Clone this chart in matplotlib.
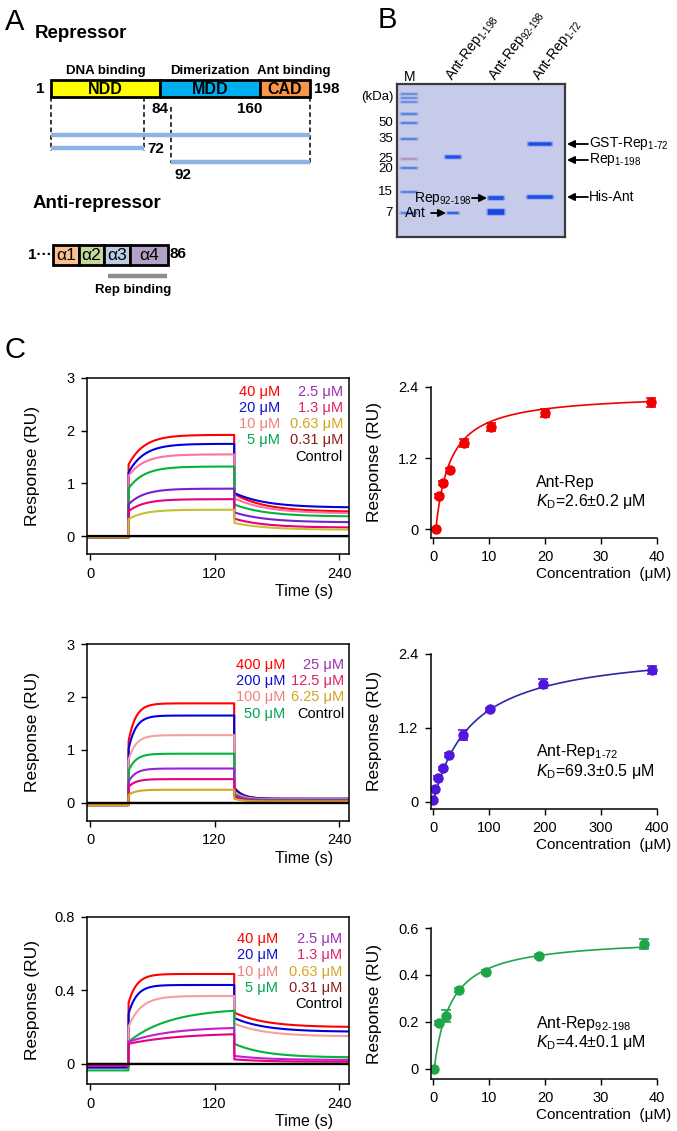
import numpy as np
import matplotlib
matplotlib.use("Agg")
import matplotlib.pyplot as plt
from matplotlib.patches import Rectangle, FancyBboxPatch

plt.rcParams['font.family'] = ['Liberation Sans', 'DejaVu Sans']
plt.rcParams['mathtext.fontset'] = 'custom'
plt.rcParams['mathtext.rm'] = 'Liberation Sans'
plt.rcParams['mathtext.it'] = 'Liberation Sans:italic'
plt.rcParams['mathtext.bf'] = 'Liberation Sans:bold'


def sub(base, s):
    # base text with a subscript, hyphen kept as a plain hyphen
    return base + '$_{\\mathregular{' + s.replace('-', '‐') + '}}$'


# ---------------- data ----------------
# A: repressor domain map (residues)
dom_names = ['NDD', 'MDD', 'CAD']
dom_bounds = [1, 84, 160, 198]
dom_funcs = ['DNA binding', 'Dimerization', 'Ant binding']
dom_colors = ['#FFFF00', '#00AEEF', '#F7964A']
constructs = [(1, 198), (1, 72), (92, 198)]

# A: anti-repressor helices
ant_helices = ['α1', 'α2', 'α3', 'α4']
ant_helix_len = [1, 1, 1, 1.5]
ant_colors = ['#FAC08F', '#C3D69B', '#B9CDE5', '#B3A2C7']

# B: gel (mobility in gel pixels from top)
ladder_kda = ['50', '35', '25', '20', '15', '7']
ladder_pos = [39, 55, 75, 85, 108, 129]
ladder_top = [10, 14, 18, 30]
lane_names = ['M', sub('Ant-Rep', '1-198'), sub('Ant-Rep', '92-198'), sub('Ant-Rep', '1-72')]
lane_x = [12, 56, 99, 143]
lane1_bands = [73, 129]
lane2_bands = [114, 128]
lane3_bands = [60, 113]

# C: SPR sensorgrams
t_on, t_off = 37, 139
t = np.linspace(-3, 250, 2500)

spr1_cols = ['#FF0000', '#0000E0', '#FF6FA8', '#00B43C', '#7A1FD0', '#E6007E', '#C8C030']
spr1_jump = [1.35, 1.20, 1.14, 0.90, 0.60, 0.47, 0.32]
spr1_top = [1.92, 1.75, 1.55, 1.32, 0.90, 0.70, 0.50]
spr1_wash = [0.80, 0.82, 0.72, 0.60, 0.45, 0.33, 0.25]
spr1_end = [0.46, 0.54, 0.43, 0.37, 0.26, 0.16, 0.12]

spr2_cols = ['#FF0000', '#0000E0', '#F4A0A0', '#00B43C', '#9A1FE0', '#E6007E', '#D4A520']
spr2_jump = [1.15, 1.00, 0.80, 0.60, 0.40, 0.30, 0.15]
spr2_top = [1.88, 1.65, 1.28, 0.93, 0.65, 0.45, 0.25]
spr2_wash = [0.30, 0.28, 0.22, 0.18, 0.15, 0.12, 0.08]
spr2_end = [0.08, 0.08, 0.07, 0.06, 0.05, 0.04, 0.03]

spr3_cols = ['#FF0000', '#0000E0', '#F4A0A0', '#00B43C', '#C020D0', '#E6007E']
spr3_jump = [0.33, 0.27, 0.20, 0.12, 0.12, 0.11]
spr3_top = [0.49, 0.43, 0.37, 0.29, 0.196, 0.162]
spr3_wash = [0.28, 0.25, 0.22, 0.11, 0.044, 0.025]
spr3_end = [0.20, 0.175, 0.15, 0.035, 0.022, 0.012]
spr3_tau = [8, 8, 12, 40, 40, 50]
spr3_base = [-0.01, -0.02, -0.01, -0.035, -0.01, -0.01]

leg1_a = ['40 μM', '20 μM', '10 μM', '5 μM']
leg1_b = ['2.5 μM', '1.3 μM', '0.63 μM', '0.31 μM', 'Control']
leg2_a = ['400 μM', '200 μM', '100 μM', '50 μM']
leg2_b = ['25 μM', '12.5 μM', '6.25 μM', 'Control']
leg_a_cols = ['#FF0000', '#1010D0', '#F08080', '#00A550']
leg_b_cols = ['#9B30B0', '#E0206A', '#D4A520', '#8B1A1A', 'black']
leg2_b_cols = ['#9B30B0', '#E0206A', '#D4A520', 'black']

# C: binding curves
b1_conc = [0.5, 1.1, 1.8, 3.0, 5.5, 10.3, 20.0, 39.0]
b1_resp = [0.0, 0.56, 0.78, 1.0, 1.45, 1.72, 1.96, 2.14]
b1_err = [0.02, 0.03, 0.03, 0.04, 0.07, 0.07, 0.07, 0.08]
b2_conc = [0.5, 3, 9, 18, 28, 54, 102, 196, 391]
b2_resp = [0.03, 0.2, 0.39, 0.54, 0.76, 1.08, 1.5, 1.92, 2.14]
b2_err = [0.01, 0.01, 0.02, 0.03, 0.03, 0.08, 0.02, 0.07, 0.07]
b3_conc = [0.2, 1.1, 2.3, 4.7, 9.4, 18.9, 37.6]
b3_resp = [0.0, 0.196, 0.225, 0.336, 0.413, 0.481, 0.532]
b3_err = [0.005, 0.01, 0.025, 0.01, 0.01, 0.01, 0.02]
fit1 = (2.30, 2.6)
fit2 = (2.52, 69.3)
fit3 = (0.56, 3.0)

# ---------------- figure ----------------
W, H = 677, 1131
fig = plt.figure(figsize=(W / 100, H / 100), dpi=100)


def box(x0, y0, x1, y1):
    return fig.add_axes([x0 / W, 1 - y1 / H, (x1 - x0) / W, (y1 - y0) / H])


def ftxt(x, y, s, **kw):
    kw.setdefault('va', 'center')
    fig.text(x / W, 1 - y / H, s, **kw)


ftxt(5, 22, 'A', fontsize=21)
ftxt(378, 20, 'B', fontsize=21)
ftxt(5, 350, 'C', fontsize=21)

# ---- panel A: repressor ----
axA = box(0, 0, 345, 330)
s = 259 / 197
axA.set_xlim(1 - 51 / s, 1 + (345 - 51) / s)
axA.set_ylim(330, 0)
axA.axis('off')
axA.text(1 - 16 / s, 34, 'Repressor', fontsize=13.5, fontweight='bold', va='center')
for i in range(3):
    a, b = dom_bounds[i], dom_bounds[i + 1]
    axA.add_patch(Rectangle((a, 80), b - a, 17, facecolor=dom_colors[i], edgecolor='black', lw=2))
    axA.text((a + b) / 2, 89, dom_names[i], fontsize=11.5, fontweight='bold', ha='center', va='center')
    axA.text((a + b) / 2 + (7 if i == 2 else 0), 71, dom_funcs[i], fontsize=9.5, fontweight='bold',
             ha='center', va='center')
axA.text(1 - 11 / s, 89, '1', fontsize=11, fontweight='bold', ha='center', va='center')
axA.text(198 + 4 / s, 89, '198', fontsize=11, fontweight='bold', ha='left', va='center')
axA.text(84, 109, '84', fontsize=11, fontweight='bold', ha='center', va='center')
axA.text(160 + 2 / s, 109, '160', fontsize=11, fontweight='bold', ha='right', va='center')
for x, y0, y1 in [(1, 97, 151), (72, 97, 151), (92, 107, 163), (198, 97, 165)]:
    axA.plot([x, x], [y0, y1], color='black', lw=1.1, ls=(0, (3, 2)))
for (a, b), y in zip(constructs, [135, 148, 162]):
    axA.plot([a, b], [y, y], color='#8DB4E2', lw=3.2, solid_capstyle='butt')
axA.text(72 + 3 / s, 149, '72', fontsize=11, fontweight='bold', ha='left', va='center')
axA.text(92 + 4 / s, 175, '92', fontsize=11, fontweight='bold', ha='left', va='center')

# ---- panel A: anti-repressor ----
axA2 = box(0, 190, 345, 300)
u = 25.5
axA2.set_xlim(-53 / u, (345 - 53) / u)
axA2.set_ylim(300, 190)
axA2.axis('off')
axA2.text(-20 / u, 204, 'Anti-repressor', fontsize=13.5, fontweight='bold', va='center')
edges = np.concatenate([[0], np.cumsum(ant_helix_len)])
for i, name in enumerate(ant_helices):
    axA2.add_patch(Rectangle((edges[i], 245), ant_helix_len[i], 20, facecolor=ant_colors[i],
                             edgecolor='black', lw=2))
    axA2.text((edges[i] + edges[i + 1]) / 2, 255.5, name, fontsize=12.5, ha='center', va='center')
axA2.text(-0.05, 255, '1···', fontsize=11, fontweight='bold', ha='right', va='center')
axA2.text(edges[-1] + 0.08, 254, '86', fontsize=11, fontweight='bold', ha='left', va='center')
axA2.plot([edges[2] + 0.16, edges[-1] - 0.04], [276, 276], color='#8C8C8C', lw=3.2,
          solid_capstyle='butt')
axA2.text((edges[2] + edges[-1]) / 2 - 0.1, 290, 'Rep binding', fontsize=9.5, fontweight='bold',
          ha='center', va='center')

# ---- panel B: gel ----
axB = box(397, 84, 565, 237)
axB.set_xlim(0, 168)
axB.set_ylim(153, 0)
axB.set_facecolor('#C6CBEA')
axB.set_xticks([])
axB.set_yticks([])
for sp in axB.spines.values():
    sp.set_color('#3A3A3A')
    sp.set_linewidth(1.6)


def band(x, y, w, h, color, alpha=1.0):
    axB.add_patch(FancyBboxPatch((x - w / 2, y - h / 2), w, h, boxstyle='round,pad=0.7,rounding_size=1.5',
                                 facecolor=color, edgecolor='none', alpha=alpha * 0.35))
    axB.add_patch(FancyBboxPatch((x - w / 2 + 1, y - h / 2 + 0.4), w - 2, h - 0.8,
                                 boxstyle='round,pad=0.2,rounding_size=1.2',
                                 facecolor=color, edgecolor='none', alpha=alpha))


for y in ladder_top:
    band(lane_x[0], y, 18, 2.0 if y < 25 else 2.6, '#4D7BE0', 0.8)
for y, k in zip(ladder_pos, ladder_kda):
    band(lane_x[0], y if k != '20' else 84, 18, 2.4, '#B090C0' if k == '25' else '#4D7BE0', 0.85)
    axB.text(-4, y, k, fontsize=9.5, ha='right', va='center', clip_on=False)
axB.text(-4, 13, '(kDa)', fontsize=9.5, ha='right', va='center', clip_on=False)
band(lane_x[1], lane1_bands[0], 17, 3.5, '#1E4FE6')
band(lane_x[1], lane1_bands[1], 13, 2.6, '#2A5CE6', 0.9)
band(lane_x[2], lane2_bands[0], 17, 4.2, '#1E4FE6')
band(lane_x[2], lane2_bands[1], 18, 6.0, '#1846E6')
band(lane_x[3], lane3_bands[0], 25, 3.8, '#1E4FE6')
band(lane_x[3], lane3_bands[1], 27, 3.8, '#1E4FE6')

axB.text(lane_x[0] + 1, -7, lane_names[0], fontsize=10, ha='center', va='center', clip_on=False)
for i in range(1, 4):
    axB.text(lane_x[i] - 4, -5, lane_names[i], fontsize=10, rotation=54, rotation_mode='anchor',
             ha='left', va='center', clip_on=False)

arrow = dict(arrowstyle='-|>', lw=1.3, color='black', mutation_scale=11, shrinkA=0, shrinkB=0)
for y, lab in [(60, sub('GST-Rep', '1-72')), (76, sub('Rep', '1-198')), (113, 'His-Ant')]:
    axB.annotate('', xy=(170, y), xytext=(191, y), arrowprops=arrow, annotation_clip=False)
    axB.text(192, y, lab, fontsize=10, ha='left', va='center', clip_on=False)
axB.annotate('', xy=(90, 114), xytext=(75, 114), arrowprops=arrow, annotation_clip=False)
axB.text(74, 114.5, sub('Rep', '92-198'), fontsize=10, ha='right', va='center')
axB.annotate('', xy=(49, 129), xytext=(34, 129), arrowprops=arrow, annotation_clip=False)
axB.text(29, 129, 'Ant', fontsize=10, ha='right', va='center')


# ---- panel C: sensorgrams ----
def sensorgram(jump, top, wash, end, tau_on, tau_off, base):
    y = np.full_like(t, base)
    on = (t >= t_on) & (t < t_off)
    amp = (top - jump) / (1 - np.exp(-(t_off - t_on) / tau_on))
    y[on] = jump + amp * (1 - np.exp(-(t[on] - t_on) / tau_on))
    off = t >= t_off
    y[off] = end + (wash - end) * np.exp(-(t[off] - t_off) / tau_off)
    return y


def style_spr(ax, ylim, yticks, ylabs, bottom_px):
    ax.set_xlim(-2.9, 249.6)
    ax.set_ylim(*ylim)
    ax.set_xticks([0, 120, 240])
    ax.set_yticks(yticks)
    ax.set_yticklabels(ylabs)
    ax.tick_params(direction='out', length=4, width=1, labelsize=10.5, pad=5)
    for sp in ax.spines.values():
        sp.set_linewidth(1.1)
    ax.set_ylabel('Response (RU)', fontsize=12.5)
    ax.yaxis.set_label_coords(-0.18, 0.5)
    ax.set_xlabel('Time (s)', fontsize=11.5)
    ax.xaxis.set_label_coords(0.83, -30 / bottom_px)


def legend_text(top_px, rows_px, col_a_x, col_b_x, a_labs, a_cols, b_labs, b_cols):
    for lab, c, y in zip(a_labs, a_cols, rows_px):
        ftxt(col_a_x, top_px + y, lab, color=c, fontsize=10.5, ha='right')
    for lab, c, y in zip(b_labs, b_cols, rows_px):
        ftxt(col_b_x, top_px + y, lab, color=c, fontsize=10.5, ha='right')


ax1 = box(87, 378, 349, 554)
for i in range(len(spr1_cols)):
    ax1.plot(t, sensorgram(spr1_jump[i], spr1_top[i], spr1_wash[i], spr1_end[i], 15, 30, -0.025),
             color=spr1_cols[i], lw=1.5)
ax1.plot(t, np.zeros_like(t), color='black', lw=1.7)
style_spr(ax1, (-0.34, 3), [0, 1, 2, 3], ['0', '1', '2', '3'], 176)
legend_text(378, [14, 30, 46, 62, 79], 280, 343, leg1_a, leg_a_cols, leg1_b, leg_b_cols)

ax2 = box(87, 644, 349, 821)
for i in range(len(spr2_cols)):
    ax2.plot(t, sensorgram(spr2_jump[i], spr2_top[i], spr2_wash[i], spr2_end[i], 7, 8, -0.04),
             color=spr2_cols[i], lw=1.5)
ax2.plot(t, np.zeros_like(t), color='black', lw=1.7)
style_spr(ax2, (-0.34, 3), [0, 1, 2, 3], ['0', '1', '2', '3'], 177)
legend_text(644, [21, 37, 53, 70], 285, 344, leg2_a, leg_a_cols, leg2_b, leg2_b_cols)

ax3 = box(87, 917, 349, 1084)
for i in range(len(spr3_cols)):
    ax3.plot(t, sensorgram(spr3_jump[i], spr3_top[i], spr3_wash[i], spr3_end[i], spr3_tau[i], 30,
                           spr3_base[i]), color=spr3_cols[i], lw=1.5)
ax3.plot(t, np.zeros_like(t), color='black', lw=1.7)
style_spr(ax3, (-0.109, 0.8), [0, 0.4, 0.8], ['0', '0.4', '0.8'], 167)
legend_text(917, [22, 38, 55, 71, 87], 278, 342, leg1_a, leg_a_cols, leg1_b, leg_b_cols)


# ---- panel C: binding isotherms ----
def binding(ax, conc, resp, err, fit, col, line_col, xlim, xticks, ylim, yticks, ylabs, name, kd, bottom_px):
    x0 = conc[0]
    xs = np.linspace(x0, conc[-1], 400)
    bmax, k = fit
    ax.plot(xs, bmax * (xs - x0) / (k + xs - x0), color=line_col, lw=1.2)
    ax.errorbar(conc, resp, yerr=err, fmt='o', color=col, ms=6.5, capsize=3.5, elinewidth=1.2,
                capthick=1.2)
    ax.set_xlim(*xlim)
    ax.set_ylim(*ylim)
    ax.set_xticks(xticks)
    ax.set_yticks(yticks)
    ax.set_yticklabels(ylabs)
    ax.spines['top'].set_visible(False)
    ax.spines['right'].set_visible(False)
    for sp in ['left', 'bottom']:
        ax.spines[sp].set_linewidth(1.1)
    ax.tick_params(direction='out', length=4, width=1, labelsize=10.5, pad=5)
    ax.set_ylabel('Response (RU)', fontsize=12.5)
    ax.yaxis.set_label_coords(-0.215, 0.5)
    ax.set_xlabel('Concentration  (μM)', fontsize=11)
    ax.xaxis.set_label_coords(0.765, -29 / bottom_px)
    ax.text(0.465, 0.37, name, transform=ax.transAxes, fontsize=11.5, va='center')
    ax.text(0.465, 0.245, '$K$$_{\\mathregular{D}}$=' + kd, transform=ax.transAxes, fontsize=11.5,
            va='center')


bx1 = box(431, 387, 657, 538)
binding(bx1, b1_conc, b1_resp, b1_err, fit1, '#F00000', '#F00000', (-0.36, 40), [0, 10, 20, 30, 40],
        (-0.15, 2.4), [0, 1.2, 2.4], ['0', '1.2', '2.4'], 'Ant-Rep', '2.6±0.2 μM', 151)
bx2 = box(431, 654, 657, 809)
binding(bx2, b2_conc, b2_resp, b2_err, fit2, '#5016DC', '#2A2AA0', (-3.6, 400), [0, 100, 200, 300, 400],
        (-0.12, 2.4), [0, 1.2, 2.4], ['0', '1.2', '2.4'], sub('Ant-Rep', '1-72'),
        '69.3±0.5 μM', 155)
bx3 = box(431, 928, 657, 1079)
binding(bx3, b3_conc, b3_resp, b3_err, fit3, '#1FA64A', '#1FA64A', (-0.36, 40), [0, 10, 20, 30, 40],
        (-0.0426, 0.6), [0, 0.2, 0.4, 0.6], ['0', '0.2', '0.4', '0.6'], sub('Ant-Rep', '92-198'),
        '4.4±0.1 μM', 151)

fig.savefig('out.png', dpi=100)
